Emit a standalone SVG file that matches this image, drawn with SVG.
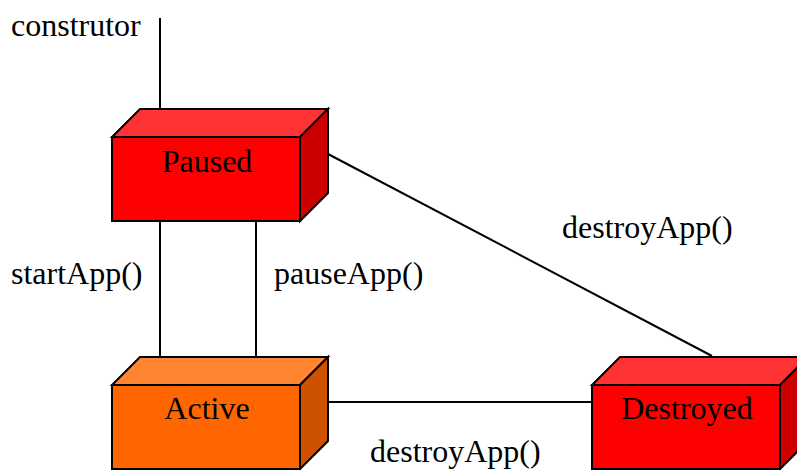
<svg xmlns="http://www.w3.org/2000/svg" width="797" height="470" viewBox="0 0 797 470">
<style>
text{font-family:"Liberation Serif","Times New Roman",serif;font-size:32px;fill:#000}
.lbl{text-anchor:middle}
.e{stroke:#000;stroke-width:2;fill:none}
.b{stroke:#000;stroke-width:2;stroke-linejoin:miter}
.rf{fill:#FF0000}.rt{fill:#FF3333}.rs{fill:#CC0000}
.of{fill:#FF6600}.ot{fill:#FF8533}.os{fill:#CC5200}
</style>
<rect width="797" height="470" fill="#fff"/>
<g id="connectors">
<line class="e" x1="160" y1="18" x2="160" y2="109"/>
<line class="e" x1="160" y1="221" x2="160" y2="357"/>
<line class="e" x1="256" y1="221" x2="256" y2="357"/>
<line class="e" x1="328" y1="154" x2="712" y2="356"/>
<line class="e" x1="328" y1="402" x2="592" y2="402"/>
<text x="11" y="36">construtor</text>
<text x="11" y="284">startApp()</text>
<text x="274" y="284">pauseApp()</text>
<text x="562" y="238">destroyApp()</text>
<text x="370" y="462">destroyApp()</text>
</g>
<g id="paused">
<polygon class="b rt" points="112,137 140,109 328,109 300,137"/>
<polygon class="b rs" points="300,137 328,109 328,193 300,221"/>
<rect class="b rf" x="112" y="137" width="188" height="84"/>
<text class="lbl" x="207" y="172">Paused</text>
</g>
<g id="active">
<polygon class="b ot" points="112,385 140,357 328,357 300,385"/>
<polygon class="b os" points="300,385 328,357 328,441 300,469"/>
<rect class="b of" x="112" y="385" width="188" height="84"/>
<text class="lbl" x="207" y="419">Active</text>
</g>
<g id="destroyed">
<polygon class="b rt" points="592,385 620,357 808,357 780,385"/>
<polygon class="b rs" points="780,385 808,357 808,441 780,469"/>
<rect class="b rf" x="592" y="385" width="188" height="84"/>
<text class="lbl" x="687" y="419">Destroyed</text>
</g>
</svg>
